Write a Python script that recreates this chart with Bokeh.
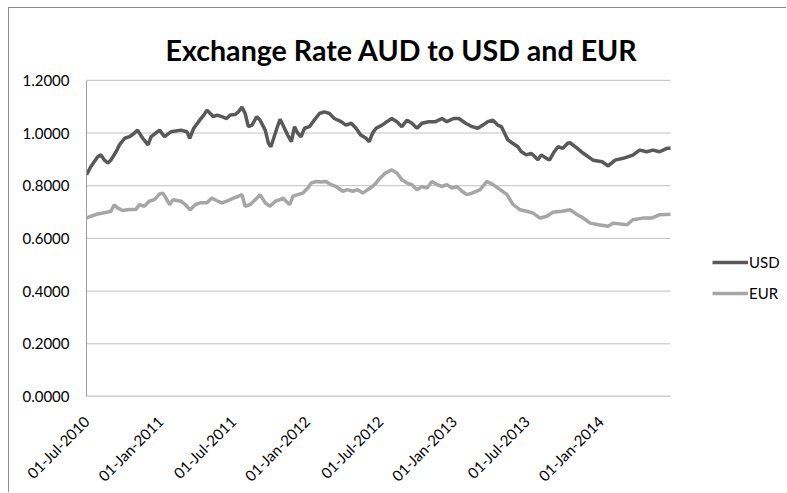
import math
import pandas as pd
from bokeh.plotting import figure
from bokeh.models import (FixedTicker, NumeralTickFormatter, DatetimeTickFormatter,
                          Range1d, Legend, LegendItem, Label)
from bokeh.embed import file_html
from bokeh.resources import INLINE

title_text = "Exchange Rate AUD to USD and EUR"
series_names = ["USD", "EUR"]

usd_dates = [
    "2010-07-01", "2010-07-12", "2010-07-29", "2010-08-06", "2010-08-14", "2010-08-23", "2010-08-31",
    "2010-09-13", "2010-09-21", "2010-10-04", "2010-10-16", "2010-10-28", "2010-11-05", "2010-11-18",
    "2010-12-01", "2010-12-09", "2010-12-30", "2011-01-11", "2011-01-28", "2011-02-21", "2011-03-08",
    "2011-03-15", "2011-03-25", "2011-04-06", "2011-04-19", "2011-04-27", "2011-05-05", "2011-05-13",
    "2011-05-22", "2011-06-03", "2011-06-15", "2011-06-24", "2011-07-06", "2011-07-14", "2011-07-23",
    "2011-07-31", "2011-08-08", "2011-08-17", "2011-08-29", "2011-09-06", "2011-09-19", "2011-09-27",
    "2011-10-03", "2011-10-10", "2011-10-18", "2011-10-26", "2011-11-02", "2011-11-14", "2011-11-23",
    "2011-12-01", "2011-12-09", "2011-12-17", "2011-12-26", "2012-01-07", "2012-01-19", "2012-02-01",
    "2012-02-13", "2012-02-26", "2012-03-09", "2012-03-26", "2012-04-07", "2012-04-20", "2012-05-02",
    "2012-05-14", "2012-05-27", "2012-06-04", "2012-06-12", "2012-06-21", "2012-07-06", "2012-07-18",
    "2012-07-30", "2012-08-12", "2012-08-24", "2012-09-06", "2012-09-18", "2012-10-01", "2012-10-13",
    "2012-10-30", "2012-11-16", "2012-12-02", "2012-12-14", "2012-12-31", "2013-01-13", "2013-01-30",
    "2013-02-15", "2013-03-01", "2013-03-14", "2013-03-26", "2013-04-08", "2013-04-20", "2013-04-29",
    "2013-05-07", "2013-05-15", "2013-05-27", "2013-06-09", "2013-06-17", "2013-06-30", "2013-07-12",
    "2013-07-21", "2013-07-29", "2013-08-06", "2013-08-19", "2013-08-27", "2013-09-08", "2013-09-17",
    "2013-09-29", "2013-10-11", "2013-10-17", "2013-11-04", "2013-11-19", "2013-12-13", "2014-01-05",
    "2014-01-20", "2014-02-06", "2014-02-26", "2014-03-22", "2014-04-08", "2014-04-26", "2014-05-11",
    "2014-05-28", "2014-06-15", "2014-06-24",
]
usd_values = [
    0.842, 0.873, 0.910, 0.917, 0.898, 0.886, 0.898,
    0.930, 0.955, 0.980, 0.986, 0.999, 1.011, 0.980,
    0.955, 0.986, 1.011, 0.986, 1.005, 1.011, 1.005,
    0.980, 1.018, 1.043, 1.068, 1.087, 1.074, 1.062,
    1.068, 1.062, 1.055, 1.068, 1.070, 1.080, 1.099,
    1.074, 1.024, 1.030, 1.062, 1.049, 1.011, 0.961,
    0.948, 0.980, 1.018, 1.052, 1.030, 0.992, 0.967,
    1.024, 0.999, 0.986, 1.018, 1.024, 1.049, 1.074,
    1.080, 1.074, 1.055, 1.043, 1.030, 1.037, 1.018,
    0.992, 0.980, 0.967, 0.999, 1.018, 1.030, 1.043,
    1.055, 1.043, 1.024, 1.049, 1.037, 1.018, 1.037,
    1.043, 1.043, 1.055, 1.043, 1.055, 1.055, 1.037,
    1.024, 1.018, 1.030, 1.043, 1.049, 1.030, 1.024,
    0.999, 0.974, 0.961, 0.948, 0.930, 0.917, 0.923,
    0.911, 0.898, 0.917, 0.904, 0.898, 0.930, 0.948,
    0.942, 0.961, 0.963, 0.942, 0.923, 0.897, 0.891,
    0.875, 0.897, 0.904, 0.916, 0.935, 0.929, 0.935,
    0.929, 0.942, 0.942,
]

eur_dates = [
    "2010-07-01", "2010-07-12", "2010-07-29", "2010-08-14", "2010-08-31", "2010-09-08", "2010-09-16",
    "2010-09-29", "2010-10-16", "2010-11-01", "2010-11-10", "2010-11-22", "2010-12-04", "2010-12-17",
    "2010-12-30", "2011-01-07", "2011-01-15", "2011-01-24", "2011-02-01", "2011-02-21", "2011-03-04",
    "2011-03-16", "2011-03-29", "2011-04-10", "2011-04-27", "2011-05-09", "2011-05-22", "2011-06-03",
    "2011-06-15", "2011-07-02", "2011-07-14", "2011-07-23", "2011-07-31", "2011-08-12", "2011-08-25",
    "2011-09-06", "2011-09-19", "2011-10-01", "2011-10-14", "2011-10-26", "2011-11-02", "2011-11-19",
    "2011-11-27", "2011-12-09", "2011-12-22", "2012-01-03", "2012-01-11", "2012-01-24", "2012-02-05",
    "2012-02-17", "2012-03-01", "2012-03-13", "2012-03-30", "2012-04-11", "2012-04-24", "2012-05-06",
    "2012-05-19", "2012-05-31", "2012-06-12", "2012-06-21", "2012-06-27", "2012-07-14", "2012-07-30",
    "2012-08-12", "2012-08-24", "2012-09-06", "2012-09-18", "2012-10-01", "2012-10-13", "2012-10-26",
    "2012-11-07", "2012-11-20", "2012-12-02", "2012-12-14", "2012-12-27", "2013-01-08", "2013-01-21",
    "2013-02-02", "2013-02-15", "2013-03-07", "2013-03-24", "2013-04-08", "2013-04-26", "2013-05-13",
    "2013-05-28", "2013-06-14", "2013-07-01", "2013-07-17", "2013-08-03", "2013-08-20", "2013-09-04",
    "2013-09-27", "2013-10-17", "2013-11-04", "2013-11-19", "2013-12-06", "2013-12-26", "2014-01-20",
    "2014-02-01", "2014-03-08", "2014-03-22", "2014-04-16", "2014-05-08", "2014-05-28", "2014-06-24",
]
eur_values = [
    0.678, 0.684, 0.693, 0.697, 0.703, 0.728, 0.716,
    0.706, 0.710, 0.710, 0.728, 0.722, 0.741, 0.747,
    0.769, 0.772, 0.753, 0.728, 0.747, 0.741, 0.728,
    0.709, 0.728, 0.735, 0.735, 0.753, 0.743, 0.735,
    0.741, 0.753, 0.760, 0.766, 0.722, 0.728, 0.747,
    0.766, 0.735, 0.722, 0.741, 0.747, 0.753, 0.728,
    0.760, 0.766, 0.772, 0.791, 0.810, 0.816, 0.814,
    0.816, 0.804, 0.797, 0.779, 0.785, 0.779, 0.785,
    0.772, 0.785, 0.797, 0.810, 0.823, 0.848, 0.860,
    0.848, 0.823, 0.810, 0.804, 0.785, 0.797, 0.791,
    0.816, 0.804, 0.797, 0.804, 0.791, 0.797, 0.779,
    0.766, 0.772, 0.785, 0.816, 0.804, 0.785, 0.766,
    0.728, 0.709, 0.703, 0.696, 0.677, 0.684, 0.699,
    0.703, 0.709, 0.690, 0.677, 0.658, 0.652, 0.646,
    0.658, 0.652, 0.671, 0.677, 0.677, 0.690, 0.692,
]

y_ticks = [0.0, 0.2, 0.4, 0.6, 0.8, 1.0, 1.2]
x_tick_dates = ["2010-07-01", "2011-01-01", "2011-07-01", "2012-01-01",
                "2012-07-01", "2013-01-01", "2013-07-01", "2014-01-01"]
x_start, x_end = "2010-07-01", "2014-06-24"

FONT = "Lato"
USD_COLOR = "#595959"
EUR_COLOR = "#a6a6a6"
GRID_COLOR = "#c0c0c0"
AXIS_COLOR = "#a0a0a0"

# Canvas starts at page (9, 8). The frame covers the whole canvas apart from the axis
# panels (left, bottom), so the title and the legend placed inside it are not clipped.
# The plot area proper (x_start..x_end, 0..1.2) is PLOT_W x PLOT_H px of the frame,
# starting PLOT_TOP px below the frame's top.
CANVAS_W, CANVAS_H = 778, 485
LEFT, BOTTOM = 77, 96
PLOT_W, PLOT_H, PLOT_TOP = 584, 317, 72
FRAME_W = CANVAS_W - LEFT
y_min, y_max = y_ticks[0], y_ticks[-1]
y_view_top = y_max + (y_max - y_min) * PLOT_TOP / PLOT_H
t0, t1 = pd.Timestamp(x_start), pd.Timestamp(x_end)
x_view_end = t0 + (t1 - t0) * (FRAME_W / PLOT_W)

p = figure(width=CANVAS_W, height=CANVAS_H, x_axis_type="datetime",
           output_backend="svg", toolbar_location=None,
           min_border_left=LEFT, min_border_right=0, min_border_top=0, min_border_bottom=BOTTOM,
           x_range=Range1d(t0, x_view_end),
           y_range=Range1d(y_min, y_view_top),
           styles={"margin-left": "8px", "margin-top": "7px",
                   "border-top": "1px solid #8c8c8c", "border-left": "1px solid #8c8c8c"})
p.outline_line_color = None
p.background_fill_color = "white"
p.border_fill_color = "white"

# chart title (left edge 79 px right of the plot area's left, baseline 30.5 px above its top)
title = Label(x=t0 + (t1 - t0) * (79 / PLOT_W),
              y=y_max + (y_max - y_min) * 30.5 / PLOT_H,
              text=title_text, text_font=FONT, text_font_style="bold",
              text_font_size="28.6px", text_color="#000000",
              text_align="left", text_baseline="alphabetic")
p.add_layout(title)

# horizontal gridlines limited to the plot area
grid_y = y_ticks[1:]
p.segment(x0=[t0] * len(grid_y), x1=[t1] * len(grid_y), y0=grid_y, y1=grid_y,
          line_color=GRID_COLOR, line_width=1)
# category (x) axis line
p.segment(x0=[t0], x1=[t1], y0=[y_min], y1=[y_min], line_color=AXIS_COLOR, line_width=1.5)

r_usd = p.line(pd.to_datetime(usd_dates), usd_values, line_color=USD_COLOR, line_width=3.5)
r_eur = p.line(pd.to_datetime(eur_dates), eur_values, line_color=EUR_COLOR, line_width=3.5)

# y axis
p.yaxis.ticker = FixedTicker(ticks=y_ticks)
p.yaxis.bounds = (y_min, y_max)
p.yaxis.formatter = NumeralTickFormatter(format="0.0000")
p.yaxis.major_tick_line_color = None
p.yaxis.minor_tick_line_color = None
p.yaxis.axis_line_color = AXIS_COLOR
p.yaxis.major_label_standoff = 11
p.yaxis.major_label_text_font = FONT
p.yaxis.major_label_text_font_size = "15px"
p.yaxis.major_label_text_color = "#000000"

# x axis
p.xaxis.ticker = FixedTicker(ticks=[pd.Timestamp(d).value / 1e6 for d in x_tick_dates])
fmt = "%d-%b-%Y"
p.xaxis.formatter = DatetimeTickFormatter(milliseconds=fmt, seconds=fmt, minsec=fmt, minutes=fmt,
                                          hourmin=fmt, hours=fmt, days=fmt, months=fmt, years=fmt)
p.xaxis.major_label_orientation = math.pi / 4
p.xaxis.major_tick_line_color = None
p.xaxis.minor_tick_line_color = None
p.xaxis.axis_line_color = None
p.xaxis.major_label_standoff = 16
p.xaxis.major_label_text_font = FONT
p.xaxis.major_label_text_font_size = "15px"
p.xaxis.major_label_text_color = "#000000"

p.xgrid.grid_line_color = None
p.ygrid.grid_line_color = None

legend = Legend(items=[LegendItem(label=series_names[0], renderers=[r_usd]),
                       LegendItem(label=series_names[1], renderers=[r_eur])],
                location=(626, 93))
legend.label_text_font = FONT
legend.label_text_font_size = "15px"
legend.label_text_color = "#000000"
legend.glyph_width = 36
legend.glyph_height = 20
legend.label_height = 20
legend.label_width = 36
legend.spacing = 11
legend.padding = 0
legend.margin = 0
legend.label_standoff = 1
legend.border_line_color = None
legend.background_fill_alpha = 0
p.add_layout(legend)

open("out.html", "w").write(file_html(p, INLINE))
